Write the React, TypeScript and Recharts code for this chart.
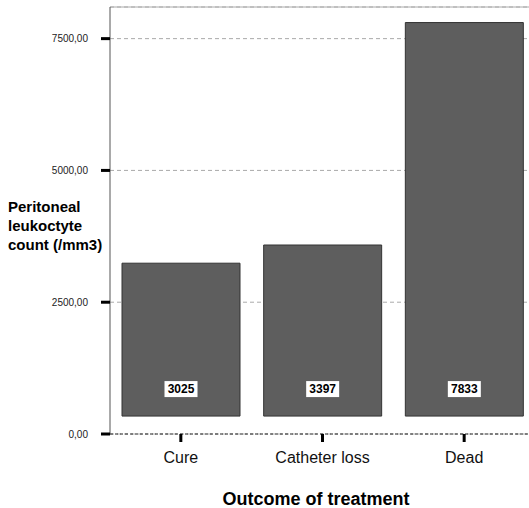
import { BarChart, Bar, XAxis, YAxis, CartesianGrid, ReferenceLine, LabelList, Label } from 'recharts';

const categories = ['Cure', 'Catheter loss', 'Dead'];
// bars float a little above the zero line in the original
const barBase = 340;
const barTops = [3240, 3585, 7805];
const countLabels = [3025, 3397, 7833];
const yTicks = [0, 2500, 5000, 7500];
const yMax = 8100;
const yTitleLines = ['Peritoneal', 'leukoctyte', 'count (/mm3)'];
const xTitle = 'Outcome of treatment';

const font = '"Liberation Sans", Arial, sans-serif';

const data = categories.map((name, i) => ({
  name,
  range: [barBase, barTops[i]],
  label: countLabels[i],
}));

const fmtTick = (v: number) => v.toFixed(2).replace('.', ',');

function ValueBox(props: any) {
  const box = props.viewBox && props.viewBox.width ? props.viewBox : props;
  const { x, y, width, height } = box;
  const cx = x + width / 2;
  const cy = y + Math.abs(height) - 27;
  return (
    <g>
      <rect x={cx - 16.5} y={cy - 8} width={33} height={16} fill="#fff" />
      <text x={cx} y={cy} dy="0.36em" textAnchor="middle" fontSize={12} fontWeight="bold" fill="#000" fontFamily={font}>
        {props.value}
      </text>
    </g>
  );
}

function YTitle(props: any) {
  const vb = props.viewBox;
  const start = vb.y + vb.height / 2 - 9;
  return (
    <text x={8} y={start} fontSize={15} fontWeight="bold" fill="#000" fontFamily={font}>
      {yTitleLines.map((line, i) => (
        <tspan key={line} x={8} y={start + i * 19}>
          {line}
        </tspan>
      ))}
    </text>
  );
}

function XTitle(props: any) {
  const vb = props.viewBox;
  return (
    <text x={vb.x + 206} y={vb.y + 71} textAnchor="middle" fontSize={18} fontWeight="bold" fill="#000" fontFamily={font}>
      {xTitle}
    </text>
  );
}

export default function App() {
  return (
    <div style={{ position: 'absolute', left: 0, top: 0, width: 529, height: 508, overflow: 'hidden', background: '#fff' }}>
      <BarChart width={535} height={508} data={data} margin={{ top: 7, right: 0, left: 0, bottom: 0 }}>
        <CartesianGrid vertical={false} stroke="#aaa" strokeDasharray="4 3" />
        <ReferenceLine y={yMax} stroke="#aaa" />
        <XAxis
          dataKey="name"
          interval={0}
          height={74}
          tickSize={8}
          tickMargin={10}
          axisLine={{ stroke: '#222', strokeDasharray: '3 2' }}
          tickLine={{ stroke: '#000', strokeWidth: 3 }}
          tick={{ fontSize: 16, fill: '#111', fontFamily: font }}
        >
          <Label content={XTitle} />
        </XAxis>
        <YAxis
          width={110}
          domain={[0, yMax]}
          ticks={yTicks}
          tickFormatter={fmtTick}
          tickSize={9}
          tickMargin={13}
          axisLine={{ stroke: '#555' }}
          tickLine={{ stroke: '#000', strokeWidth: 3 }}
          tick={{ fontSize: 10, fill: '#222', fontFamily: font }}
        >
          <Label content={YTitle} />
        </YAxis>
        <Bar dataKey="range" barSize={118} fill="#5e5e5e" stroke="#333" strokeWidth={1} isAnimationActive={false}>
          <LabelList dataKey="label" content={ValueBox} />
        </Bar>
      </BarChart>
    </div>
  );
}
